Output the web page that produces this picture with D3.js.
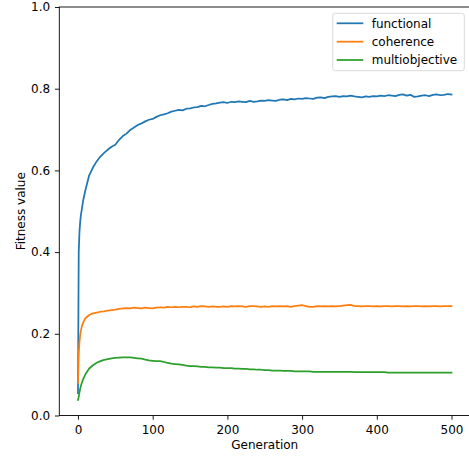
<!DOCTYPE html>
<html>
<head>
<meta charset="utf-8">
<script src="https://cdn.jsdelivr.net/npm/d3@7"></script>
<style>
  html, body { margin: 0; padding: 0; background: #fff; }
  svg { display: block; font-family: "DejaVu Sans", sans-serif; }
</style>
</head>
<body>
<svg id="chart" width="469" height="457"></svg>
<script>
// ---- data ----
const generations = [0,1,2,3,4,5,7,10,15,20,25,30,35,40,45,50,55,60,65,70,75,80,85,90,95,100,
  105,110,115,120,125,130,135,140,145,150,155,160,165,170,175,180,185,190,195,200,
  205,210,215,220,225,230,235,240,245,250,255,260,265,270,275,280,285,290,295,300,
  305,310,315,320,325,330,335,340,345,350,355,360,365,370,375,380,385,390,395,400,
  405,410,415,420,425,430,435,440,445,450,455,460,465,470,475,480,485,490,495,500];

const functional = [0.055,0.400,0.450,0.475,0.492,0.503,0.527,0.552,0.588,0.607,0.622,0.634,0.643,0.651,0.658,0.663,0.675,0.684,0.690,0.699,0.705,0.711,0.715,0.720,0.724,0.726,
  0.731,0.735,0.737,0.740,0.744,0.746,0.748,0.747,0.751,0.752,0.754,0.755,0.758,0.757,0.760,0.763,0.764,0.766,0.767,0.765,
  0.768,0.767,0.769,0.768,0.767,0.770,0.768,0.769,0.771,0.770,0.772,0.771,0.770,0.773,0.774,0.772,0.775,0.774,0.776,0.775,
  0.777,0.776,0.775,0.778,0.779,0.777,0.780,0.781,0.782,0.780,0.782,0.781,0.783,0.781,0.780,0.779,0.781,0.780,0.782,0.781,
  0.783,0.782,0.784,0.783,0.782,0.785,0.786,0.783,0.785,0.780,0.781,0.783,0.784,0.782,0.785,0.786,0.784,0.785,0.787,0.786];

const coherence = [0.080,0.150,0.180,0.198,0.209,0.217,0.228,0.238,0.246,0.250,0.252,0.254,0.255,0.257,0.258,0.259,0.261,0.262,0.263,0.262,0.264,0.263,0.262,0.264,0.263,0.262,
  0.264,0.265,0.264,0.266,0.265,0.266,0.265,0.266,0.266,0.265,0.267,0.266,0.268,0.267,0.266,0.267,0.266,0.266,0.267,0.266,
  0.268,0.267,0.268,0.267,0.266,0.268,0.268,0.267,0.266,0.267,0.266,0.268,0.267,0.268,0.267,0.268,0.266,0.268,0.269,0.270,
  0.268,0.266,0.266,0.268,0.267,0.268,0.267,0.268,0.267,0.268,0.269,0.270,0.271,0.268,0.268,0.267,0.268,0.268,0.267,0.268,
  0.267,0.268,0.268,0.267,0.268,0.268,0.267,0.268,0.267,0.268,0.268,0.267,0.268,0.267,0.268,0.268,0.267,0.268,0.268,0.268];

const multiobjective = [0.038,0.045,0.057,0.066,0.073,0.079,0.089,0.101,0.115,0.123,0.129,0.133,0.136,0.138,0.140,0.141,0.1415,0.142,0.1425,0.142,0.141,0.140,0.139,0.137,0.135,0.134,
  0.133,0.133,0.131,0.129,0.127,0.126,0.125,0.124,0.122,0.121,0.121,0.120,0.119,0.119,0.118,0.118,0.117,0.117,0.116,0.116,
  0.116,0.115,0.115,0.114,0.114,0.113,0.113,0.112,0.112,0.111,0.111,0.110,0.110,0.110,0.109,0.109,0.109,0.108,0.108,0.108,
  0.108,0.108,0.107,0.107,0.107,0.107,0.107,0.107,0.107,0.107,0.107,0.107,0.107,0.106,0.106,0.106,0.106,0.106,0.106,0.106,
  0.106,0.106,0.105,0.105,0.105,0.105,0.105,0.105,0.105,0.105,0.105,0.105,0.105,0.105,0.105,0.105,0.105,0.105,0.105,0.105];

const seriesNames = ["functional", "coherence", "multiobjective"];
const seriesColors = ["#1f77b4", "#ff7f0e", "#2ca02c"];
const xTicks = [0, 100, 200, 300, 400, 500];
const yTicks = [0.0, 0.2, 0.4, 0.6, 0.8, 1.0];
const xLabel = "Generation";
const yLabel = "Fitness value";

// ---- layout ----
const svg = d3.select("#chart");
const mLeft = 59.3, mRight = 470.2, mTop = 7, mBottom = 415.5;
const fontSize = 12;

const x = d3.scaleLinear().domain([-25, 525]).range([mLeft, mRight]);
const y = d3.scaleLinear().domain([0, 1]).range([mBottom, mTop]);

const seriesValues = [functional, coherence, multiobjective];

// lines
const line = d3.line().x(d => x(d[0])).y(d => y(d[1]));
const plot = svg.append("g");
seriesValues.forEach((vals, i) => {
  const pts = generations.map((g, j) => [g, vals[j]]);
  plot.append("path")
    .datum(pts)
    .attr("fill", "none")
    .attr("stroke", seriesColors[i])
    .attr("stroke-width", 1.75)
    .attr("stroke-linejoin", "round")
    .attr("stroke-linecap", "square")
    .attr("d", line);
});

// axes
const xAxis = d3.axisBottom(x).tickValues(xTicks).tickFormat(d3.format("d"))
  .tickSize(4.2).tickPadding(5.6).tickSizeOuter(0);
const yAxis = d3.axisLeft(y).tickValues(yTicks).tickFormat(d3.format(".1f"))
  .tickSize(4.4).tickPadding(4.8).tickSizeOuter(0);

const gx = svg.append("g").attr("transform", `translate(0,${mBottom})`).call(xAxis);
const gy = svg.append("g").attr("transform", `translate(${mLeft},0)`).call(yAxis);
[gx, gy].forEach(g => {
  g.select(".domain").remove();
  g.selectAll(".tick line").attr("stroke", "#000").attr("stroke-width", 0.9);
  g.selectAll(".tick text").attr("fill", "#000")
    .style("font-family", "'DejaVu Sans', sans-serif").style("font-size", fontSize + "px");
});

// spines
const spine = svg.append("g").attr("stroke", "#000").attr("stroke-width", 0.9).attr("fill", "none");
spine.append("rect").attr("x", mLeft).attr("y", mTop).attr("width", mRight - mLeft).attr("height", mBottom - mTop);

// axis labels
svg.append("text")
  .attr("x", (mLeft + mRight) / 2).attr("y", 449)
  .attr("text-anchor", "middle")
  .style("font-size", fontSize + "px")
  .text(xLabel);
svg.append("text")
  .attr("transform", `translate(24.5,${(mTop + mBottom) / 2}) rotate(-90)`)
  .attr("text-anchor", "middle")
  .style("font-size", fontSize + "px")
  .text(yLabel);

// legend
const lg = svg.append("g");
lg.append("rect")
  .attr("x", 332.7).attr("y", 13.3).attr("width", 131.6).attr("height", 57.4)
  .attr("rx", 2.5).attr("ry", 2.5)
  .attr("fill", "#fff").attr("fill-opacity", 0.8)
  .attr("stroke", "#d6d6d6").attr("stroke-width", 0.9);
const rowY = [23.3, 41.7, 60.0];
seriesNames.forEach((name, i) => {
  lg.append("line")
    .attr("x1", 336.7).attr("x2", 363.3)
    .attr("y1", rowY[i]).attr("y2", rowY[i])
    .attr("stroke", seriesColors[i]).attr("stroke-width", 1.75);
  lg.append("text")
    .attr("x", 371.7).attr("y", rowY[i] + 4.3)
    .style("font-size", fontSize + "px")
    .text(name);
});
</script>
</body>
</html>
